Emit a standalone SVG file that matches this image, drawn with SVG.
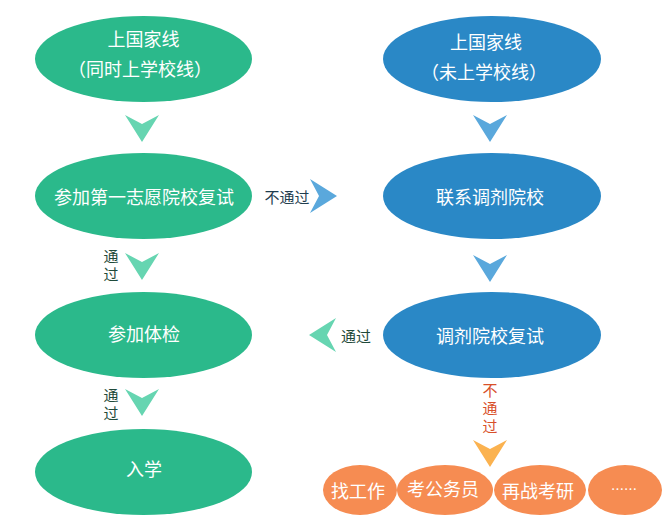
<svg xmlns="http://www.w3.org/2000/svg" xmlns:xlink="http://www.w3.org/1999/xlink" width="668" height="530" viewBox="0 0 668 530">
<style>
text{font-family:"Noto Sans CJK SC","Noto Sans",sans-serif;text-anchor:middle;dominant-baseline:central}
.g{fill:#2bb98b}.b{fill:#2a88c6}.o{fill:#f68c52}
.t{fill:#fff;font-size:18px}
.ga{fill:#66d5b1}.ba{fill:#5aa8dc}.oa{fill:#fbb24f}
.lb{font-size:15px;fill:#1f3d4f}
.lg{font-size:15px;fill:#1f4a3a}
.lr{font-size:15px;fill:#d8502a}
.v{writing-mode:vertical-rl;letter-spacing:3px}
</style>
<defs>
<path id="arr" d="M -17 -13 L 0 -4 L 17 -13 L 0 14 Z"/>
</defs>
<rect width="668" height="530" fill="#fff"/>
<g id="connectors">
<use xlink:href="#arr" class="ga" transform="translate(142,128)"/>
<use xlink:href="#arr" class="ga" transform="translate(142,266)"/>
<use xlink:href="#arr" class="ga" transform="translate(142,402)"/>
<use xlink:href="#arr" class="ba" transform="translate(490,128)"/>
<use xlink:href="#arr" class="ba" transform="translate(490,268)"/>
<use xlink:href="#arr" class="ba" transform="translate(323,196) rotate(-90)"/>
<use xlink:href="#arr" class="ga" transform="translate(323,335) rotate(90)"/>
<use xlink:href="#arr" class="oa" transform="translate(490,453)"/>
<text class="lb" x="287" y="196">不通过</text>
<text class="lg v" x="111" y="267">通过</text>
<text class="lg v" x="111" y="406">通过</text>
<text class="lg" x="356" y="335">通过</text>
<text class="lr v" x="490" y="410">不通过</text>
</g>
<g id="n1"><ellipse class="g" cx="143.5" cy="59" rx="108.5" ry="43"/><text class="t" x="143.5" y="38">上国家线</text><text class="t" x="140" y="68">（同时上学校线）</text></g>
<g id="n2"><ellipse class="g" cx="143.5" cy="196" rx="108.5" ry="43"/><text class="t" x="144" y="196">参加第一志愿院校复试</text></g>
<g id="n3"><ellipse class="g" cx="143.5" cy="335" rx="108.5" ry="43"/><text class="t" x="144" y="333">参加体检</text></g>
<g id="n4"><ellipse class="g" cx="143.5" cy="472" rx="108.5" ry="43"/><text class="t" x="144" y="468">入学</text></g>
<g id="m1"><ellipse class="b" cx="492" cy="59" rx="109" ry="43"/><text class="t" x="486" y="41">上国家线</text><text class="t" x="484" y="71">（未上学校线）</text></g>
<g id="m2"><ellipse class="b" cx="492" cy="196" rx="109" ry="43"/><text class="t" x="490" y="196">联系调剂院校</text></g>
<g id="m3"><ellipse class="b" cx="492" cy="335" rx="109" ry="43"/><text class="t" x="490" y="335">调剂院校复试</text></g>
<g id="o1"><ellipse class="o" cx="360" cy="490" rx="37" ry="25"/><text class="t" x="358" y="490">找工作</text></g>
<g id="o2"><ellipse class="o" cx="445" cy="490" rx="48" ry="25"/><text class="t" x="443" y="488">考公务员</text></g>
<g id="o3"><ellipse class="o" cx="540" cy="490" rx="46" ry="25"/><text class="t" x="538" y="490">再战考研</text></g>
<g id="o4"><ellipse class="o" cx="625" cy="490" rx="37" ry="25"/><text class="t" x="624" y="488" style="font-size:13px">……</text></g>
</svg>
